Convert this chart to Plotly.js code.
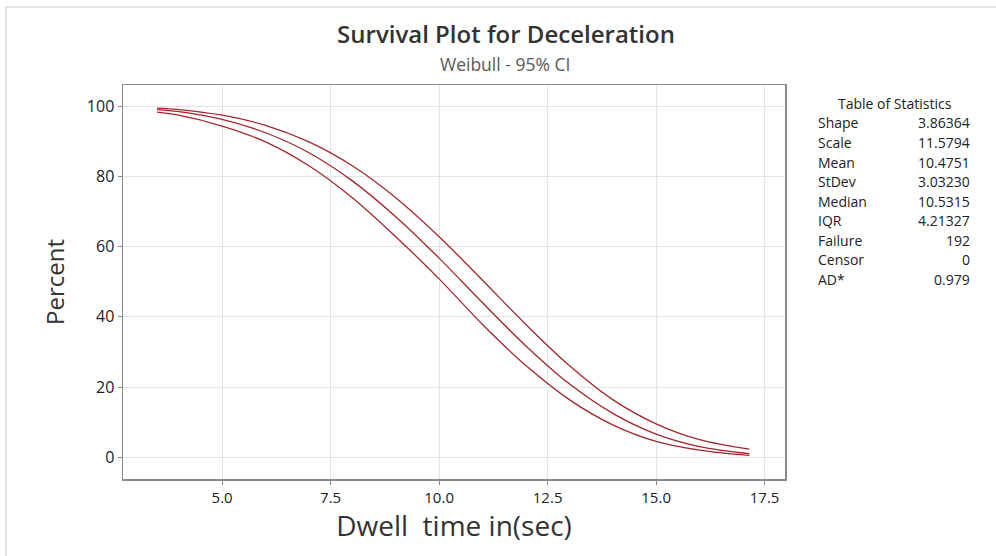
<!DOCTYPE html>
<html>
<head>
<meta charset="utf-8">
<script src="https://cdn.plot.ly/plotly-3.0.1.min.js"></script>
<style>
  html, body { margin: 0; padding: 0; background: #ffffff; }
  #wrap { position: relative; width: 996px; height: 556px; overflow: hidden; }
  #chart { position: absolute; left: 0; top: 0; width: 996px; height: 556px; }
  #frame { position: absolute; left: 5px; top: 6px; width: 1000px; height: 600px;
           border-top: 2px solid #e2e2e2; border-left: 2px solid #e2e2e2; pointer-events: none; }
</style>
</head>
<body>
<div id="wrap">
  <div id="chart"></div>
  <div id="frame"></div>
</div>
<script>
// Dwell time (sec) and survival percent: fitted Weibull curve with its 95% bounds
const timeSec  = [3.5, 4, 5, 6, 7, 8, 9, 10, 11, 12, 13, 14, 15, 16, 17.15];
const pctFit   = [99.0, 98.4, 96.2, 92.4, 86.7, 78.7, 68.5, 56.7, 44.0, 31.7, 20.9, 12.5, 6.6, 3.05, 1.05];
const pctUpper = [99.4, 99.0, 97.4, 94.5, 89.8, 83.0, 73.9, 62.8, 50.4, 37.8, 26.1, 16.4, 9.5, 5.0, 2.3];
const pctLower = [98.3, 97.4, 94.3, 89.8, 83.0, 73.9, 62.8, 50.8, 37.8, 26.1, 16.4, 9.2, 4.5, 2.0, 0.5];

// Table of Statistics
const statNames  = ["Shape", "Scale", "Mean", "StDev", "Median", "IQR", "Failure", "Censor", "AD*"];
const statValues = ["3.86364", "11.5794", "10.4751", "3.03230", "10.5315", "4.21327", "192", "0", "0.979"];

const xTicks = [5, 7.5, 10, 12.5, 15, 17.5];
const yTicks = [0, 20, 40, 60, 80, 100];

const W = 996, H = 556;
const M = { l: 123, r: 211, t: 85, b: 77 };
const px2x = p => (p - M.l) / (W - M.l - M.r);
const py2y = p => 1 - (p - M.t) / (H - M.t - M.b);

const lineColor = "#a3262b";
const font = "'Open Sans', 'Noto Sans', sans-serif";

function curve(y, name) {
  return {
    x: timeSec, y: y, name: name, type: "scatter", mode: "lines",
    line: { color: lineColor, width: 1.3, shape: "spline", smoothing: 1 },
    hoverinfo: "x+y"
  };
}

const traces = [curve(pctUpper, "Upper"), curve(pctFit, "Fit"), curve(pctLower, "Lower")];

const tableFont = { family: font, size: 14, color: "#222" };
const annotations = [{
  text: "Weibull - 95% CI", xref: "paper", yref: "paper",
  x: px2x(505), y: py2y(64), xanchor: "center", yanchor: "middle",
  showarrow: false, font: { family: font, size: 17.5, color: "#595959" }
}, {
  text: "Table of Statistics", xref: "paper", yref: "paper",
  x: px2x(895), y: py2y(103), xanchor: "center", yanchor: "middle",
  showarrow: false, font: tableFont
}];
statNames.forEach((n, i) => {
  const yy = py2y(123 + i * 19.5);
  annotations.push({ text: n, xref: "paper", yref: "paper", x: px2x(816), y: yy,
    xanchor: "left", yanchor: "middle", showarrow: false, font: tableFont });
  annotations.push({ text: statValues[i], xref: "paper", yref: "paper", x: px2x(972), y: yy,
    xanchor: "right", yanchor: "middle", showarrow: false, font: tableFont });
});

const axisCommon = {
  showline: true, mirror: true, linecolor: "#8a8a8a", linewidth: 1.5,
  showgrid: true, gridcolor: "#e4e4e4", gridwidth: 1,
  ticks: "outside", ticklen: 4, tickcolor: "#8a8a8a", zeroline: false
};

const layout = {
  width: W, height: H, margin: M,
  paper_bgcolor: "#ffffff", plot_bgcolor: "#ffffff",
  showlegend: false,
  title: {
    text: "Survival Plot for Deceleration", xref: "paper", yref: "container",
    x: px2x(506), y: 1 - 35 / H, xanchor: "center", yanchor: "middle",
    font: { family: font, size: 24, color: "#333", weight: 600 }
  },
  xaxis: Object.assign({}, axisCommon, {
    range: [2.716, 17.97], tickvals: xTicks, tickformat: ".1f",
    tickfont: { family: font, size: 15, color: "#222" },
    title: { text: "Dwell\u00a0 time in(sec)", standoff: 11,
             font: { family: font, size: 28, color: "#333" } }
  }),
  yaxis: Object.assign({}, axisCommon, {
    range: [-6.2, 106], tickvals: yTicks,
    tickfont: { family: font, size: 16, color: "#222" },
    title: { text: "Percent", standoff: 15,
             font: { family: font, size: 24, color: "#333" } }
  }),
  annotations: annotations
};

Plotly.newPlot("chart", traces, layout, { displayModeBar: false, staticPlot: true });
</script>
</body>
</html>
